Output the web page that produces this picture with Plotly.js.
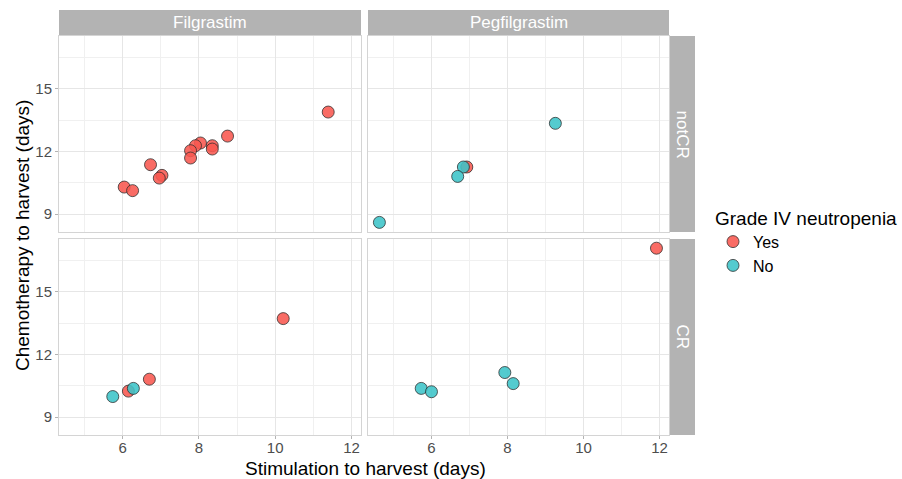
<!DOCTYPE html>
<html>
<head>
<meta charset="utf-8">
<script src="https://cdn.plot.ly/plotly-3.0.1.min.js"></script>
<style>html,body{margin:0;padding:0;background:#fff;}#chart{width:902px;height:479px;}</style>
</head>
<body>
<div id="chart"></div>
<script>
// Facets
const drugs = ["Filgrastim", "Pegfilgrastim"];
const responses = ["notCR", "CR"];
const groups = ["Yes", "No"];

// Filgrastim / notCR
const filNotCRYesX = [11.39, 8.75, 8.35, 8.35, 8.04, 7.91, 7.78, 7.78, 6.73, 7.03, 6.96, 6.04, 6.26];
const filNotCRYesY = [13.88, 12.73, 12.27, 12.11, 12.40, 12.27, 12.03, 11.68, 11.36, 10.85, 10.72, 10.29, 10.12];
const filNotCRNoX = [];
const filNotCRNoY = [];
// Pegfilgrastim / notCR
const pegNotCRYesX = [6.93];
const pegNotCRYesY = [11.25];
const pegNotCRNoX = [9.26, 6.84, 6.69, 4.63];
const pegNotCRNoY = [13.34, 11.25, 10.80, 8.60];
// Filgrastim / CR
const filCRYesX = [10.21, 6.70, 6.15];
const filCRYesY = [13.71, 10.81, 10.24];
const filCRNoX = [6.28, 5.74];
const filCRNoY = [10.37, 9.98];
// Pegfilgrastim / CR
const pegCRYesX = [11.92];
const pegCRYesY = [17.08];
const pegCRNoX = [7.93, 8.15, 5.73, 6.00];
const pegCRNoY = [11.13, 10.60, 10.37, 10.21];

const xTickVals = [6, 8, 10, 12];
const yTickVals = [9, 12, 15];

const W = 902, H = 479;
const FONT = "Liberation Sans, Arial, sans-serif";
const colors = {Yes: "rgba(248,88,80,0.88)", No: "rgba(60,196,200,0.88)"};
const panels = [
  {ax: "", drug: 0, resp: 0, data: {Yes: [filNotCRYesX, filNotCRYesY], No: [filNotCRNoX, filNotCRNoY]}},
  {ax: "2", drug: 1, resp: 0, data: {Yes: [pegNotCRYesX, pegNotCRYesY], No: [pegNotCRNoX, pegNotCRNoY]}},
  {ax: "3", drug: 0, resp: 1, data: {Yes: [filCRYesX, filCRYesY], No: [filCRNoX, filCRNoY]}},
  {ax: "4", drug: 1, resp: 1, data: {Yes: [pegCRYesX, pegCRYesY], No: [pegCRNoX, pegCRNoY]}}
];

// pixel geometry
const colPx = [[59, 361], [368, 669]];
const rowPx = [[36, 232], [239, 435]];
const fx = p => p / W;
const fy = p => 1 - p / H;

const traces = [];
groups.forEach(g => {
  let shown = false;
  panels.forEach(p => {
    const d = p.data[g];
    const show = !shown && d[0].length > 0;
    if (show) shown = true;
    traces.push({
      type: "scatter", mode: "markers",
      x: d[0], y: d[1],
      xaxis: "x" + p.ax, yaxis: "y" + p.ax,
      name: g, legendgroup: g, showlegend: show,
      marker: {size: 12, color: colors[g], line: {color: "rgba(40,40,40,0.75)", width: 1}},
      hoverinfo: "x+y"
    });
  });
});

const axBase = {
  showline: true, mirror: true, linecolor: "#D4D4D4", linewidth: 1,
  gridcolor: "#E6E6E6", gridwidth: 1, zeroline: false,
  ticks: "outside", ticklen: 3, tickcolor: "#B3B3B3", tickwidth: 1,
  tickfont: {family: FONT, size: 15, color: "#4D4D4D"},
  minor: {showgrid: true, gridcolor: "#F0F0F0", gridwidth: 1}
};

const layout = {
  width: W, height: H,
  margin: {l: 0, r: 0, t: 0, b: 0},
  paper_bgcolor: "#fff", plot_bgcolor: "#fff",
  font: {family: FONT, color: "#000"},
  showlegend: true,
  legend: {
    x: 713 / W, y: fy(200), xanchor: "left", yanchor: "top",
    title: {text: "Grade IV neutropenia", font: {size: 19, color: "#000"}},
    font: {size: 16, color: "#000"},
    tracegroupgap: 0, itemwidth: 30, bgcolor: "rgba(0,0,0,0)"
  },
  shapes: [], annotations: []
};

panels.forEach(p => {
  const xa = Object.assign({}, axBase, {
    domain: [fx(colPx[p.drug][0]), fx(colPx[p.drug][1])],
    range: [4.33, 12.25], tickmode: "array", tickvals: xTickVals,
    showticklabels: p.resp === 1, anchor: "y" + p.ax,
    ticklabelstandoff: -4,
    minor: Object.assign({}, axBase.minor, {tickmode: "array", tickvals: [5, 7, 9, 11], ticks: ""})
  });
  const ya = Object.assign({}, axBase, {
    domain: [fy(rowPx[p.resp][1]), fy(rowPx[p.resp][0])],
    range: [8.14, 17.52], tickmode: "array", tickvals: yTickVals,
    showticklabels: p.drug === 0, anchor: "x" + p.ax,
    minor: Object.assign({}, axBase.minor, {tickmode: "array", tickvals: [10.5, 13.5, 16.5], ticks: ""})
  });
  if (p.drug === 1) ya.ticks = "";
  if (p.resp === 0) xa.ticks = "";
  layout["xaxis" + p.ax] = xa;
  layout["yaxis" + p.ax] = ya;
});

// top strips
drugs.forEach((d, i) => {
  layout.shapes.push({type: "rect", xref: "paper", yref: "paper", x0: fx(colPx[i][0]), x1: fx(colPx[i][1]), y0: fy(35), y1: fy(10), fillcolor: "#B3B3B3", line: {width: 0}, layer: "below"});
  layout.annotations.push({xref: "paper", yref: "paper", x: fx((colPx[i][0] + colPx[i][1]) / 2), y: fy(22.5), text: d, showarrow: false, font: {size: 17, color: "#fff"}, xanchor: "center", yanchor: "middle"});
});
// right strips
responses.forEach((r, i) => {
  layout.shapes.push({type: "rect", xref: "paper", yref: "paper", x0: fx(670), x1: fx(695), y0: fy(rowPx[i][1]), y1: fy(rowPx[i][0]), fillcolor: "#B3B3B3", line: {width: 0}, layer: "below"});
  layout.annotations.push({xref: "paper", yref: "paper", x: fx(682.5), y: fy((rowPx[i][0] + rowPx[i][1]) / 2), text: r, showarrow: false, textangle: 90, font: {size: 17, color: "#fff"}, xanchor: "center", yanchor: "middle"});
});
// axis titles
layout.annotations.push({xref: "paper", yref: "paper", x: fx(365), y: fy(468), text: "Stimulation to harvest (days)", showarrow: false, font: {size: 19, color: "#000"}, xanchor: "center", yanchor: "middle"});
layout.annotations.push({xref: "paper", yref: "paper", x: fx(22), y: fy(236), text: "Chemotherapy to harvest (days)", showarrow: false, textangle: -90, font: {size: 19, color: "#000"}, xanchor: "center", yanchor: "middle"});

Plotly.newPlot("chart", traces, layout, {displayModeBar: false, staticPlot: true});
</script>
</body>
</html>
